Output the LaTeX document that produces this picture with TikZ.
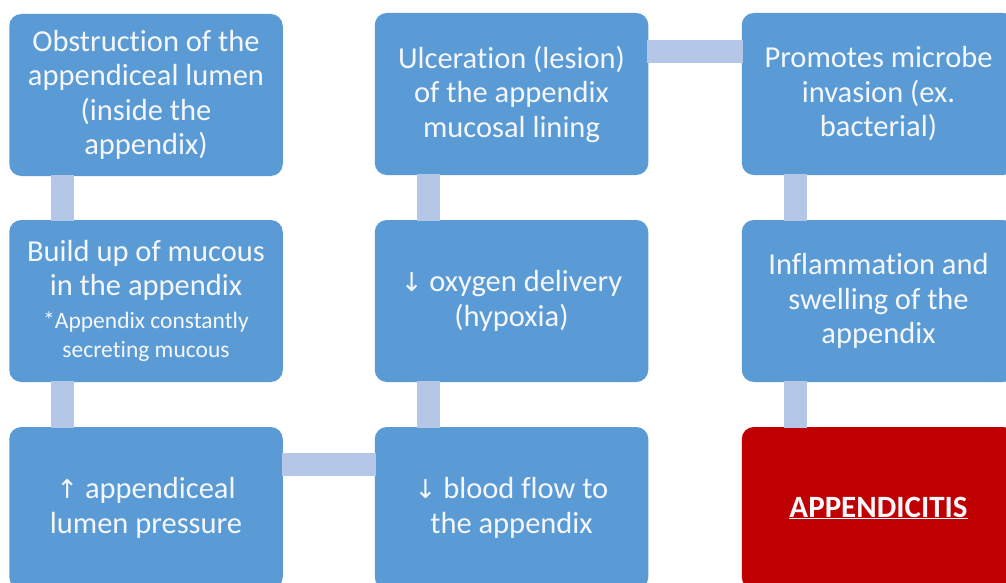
\documentclass[tikz,border=0pt]{standalone}
\usepackage{fontspec}
\setmainfont{Carlito}[Ligatures=NoCommon]
\newfontfamily\arrowfont{DejaVu Sans}
\definecolor{boxblue}{HTML}{5B9BD5}
\definecolor{connblue}{HTML}{B4C7E7}
\definecolor{boxred}{HTML}{C00000}
\definecolor{txtwhite}{HTML}{F4F7FB}
\begin{document}
\begin{tikzpicture}[x=1pt,y=-1pt,
  flowbox/.style={rounded corners=12pt, fill=boxblue, draw=none,
    minimum width=273.5pt, minimum height=162pt, text width=268pt,
    align=flush center, text=txtwhite, inner sep=0pt,
    font=\fontsize{30.5}{34.5}\selectfont},
  redbox/.style={flowbox, fill=boxred, font=\bfseries\fontsize{31}{34}\selectfont},
  conn/.style={draw=connblue, line width=23pt, line cap=butt}]
\useasboundingbox (0,0) rectangle (1006,583);
\fill[white] (0,0) rectangle (1006,583);
% nodes
\node[flowbox] (b1) at (146,95) {Obstruction of the\\appendiceal lumen\\(inside the\\appendix)};
\node[flowbox] (b2) at (146,301) {Build up of mucous\\in the appendix\\[4pt]{\fontsize{23.5}{29}\selectfont *Appendix constantly\\secreting mucous\par}};
\node[flowbox] (b3) at (146,508) {{\arrowfont\fontsize{26}{34}\selectfont ↑} appendiceal\\lumen pressure};
\node[flowbox] (b4) at (511.5,508) {{\arrowfont\fontsize{26}{34}\selectfont ↓} blood flow to\\the appendix};
\node[flowbox] (b5) at (511.5,301) {{\arrowfont\fontsize{26}{34}\selectfont ↓} oxygen delivery\\(hypoxia)};
\node[flowbox] (b6) at (511.5,94) {Ulceration (lesion)\\of the appendix\\mucosal lining};
\node[flowbox] (b7) at (878.5,94) {Promotes microbe\\invasion (ex.\\bacterial)};
\node[flowbox] (b8) at (878.5,301) {Inflammation and\\swelling of the\\appendix};
\node[redbox] (b9) at (878.5,508) {\underline{APPENDICITIS}};
% connectors
\draw[conn] ([xshift=53.5pt,yshift=1pt]b1.south west) -- ([xshift=53.5pt,yshift=-1pt]b2.north west);
\draw[conn] ([xshift=53.5pt,yshift=1pt]b2.south west) -- ([xshift=53.5pt,yshift=-1pt]b3.north west);
\draw[conn] ([yshift=-37.5pt,xshift=-1pt]b3.north east) -- ([yshift=-37.5pt,xshift=1pt]b4.north west);
\draw[conn] ([xshift=53.5pt,yshift=-1pt]b4.north west) -- ([xshift=53.5pt,yshift=1pt]b5.south west);
\draw[conn] ([xshift=53.5pt,yshift=-1pt]b5.north west) -- ([xshift=53.5pt,yshift=1pt]b6.south west);
\draw[conn] ([yshift=-38.5pt,xshift=-1pt]b6.north east) -- ([yshift=-38.5pt,xshift=1pt]b7.north west);
\draw[conn] ([xshift=53.5pt,yshift=1pt]b7.south west) -- ([xshift=53.5pt,yshift=-1pt]b8.north west);
\draw[conn] ([xshift=53.5pt,yshift=1pt]b8.south west) -- ([xshift=53.5pt,yshift=-1pt]b9.north west);
\end{tikzpicture}
\end{document}
